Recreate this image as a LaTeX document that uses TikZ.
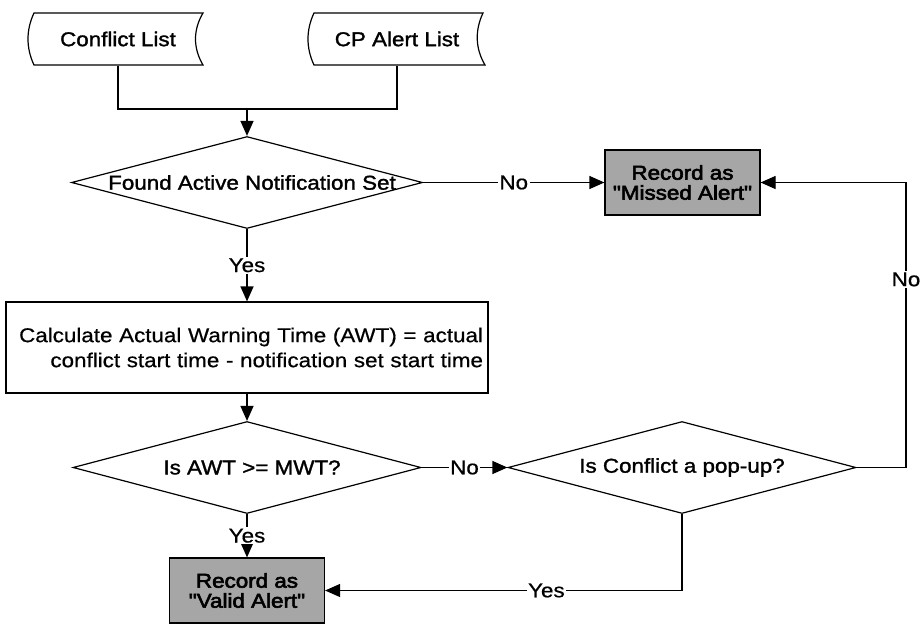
\documentclass[tikz,border=0pt]{standalone}
\usepackage{fontspec}
\setmainfont{Liberation Sans}[FakeStretch=1.12,FakeBold=0.6]
\newfontfamily\medfont{Liberation Sans}[FakeStretch=1.12,FakeBold=1.5]
\newfontfamily\heavyfont{Liberation Sans}[FakeStretch=1.12,FakeBold=3]
\usetikzlibrary{shapes.geometric,arrows.meta}

\begin{document}
\begin{tikzpicture}[x=1pt,y=-1pt,line width=1.2pt,
  every node/.style={font=\fontsize{20}{20}\selectfont},
  arr/.style={-{Triangle[length=15pt,width=13pt]}},
  listnode/.style={minimum width=172pt,minimum height=52pt,inner sep=0pt,font=\medfont\fontsize{20}{20}\selectfont},
  decision/.style={diamond,draw,inner sep=0pt,minimum width=#1,minimum height=92pt},
  recordbox/.style={draw,fill=black!35,minimum width=155pt,minimum height=65pt,align=center,inner sep=0pt,font=\heavyfont\fontsize{20}{20}\selectfont},
  answer/.style={fill=white,inner sep=1.5pt}]

\useasboundingbox (0,0) rectangle (922,624);

%%%%%%%%%%%%%%%%%%%%%%%%%%%% input lists %%%%%%%%%%%%%%%%%%%%
\draw (34,13) -- (203,13) .. controls (193,30) and (193,48) .. (203,65) -- (34,65) .. controls (26,48) and (26,30) .. cycle;
\node[listnode] (conf) at (118,39) {Conflict List};
\draw (314,13) -- (483,13) .. controls (475,30) and (475,48) .. (485,65) -- (314,65) .. controls (306,48) and (306,30) .. cycle;
\node[listnode] (cpa) at (397,39) {CP Alert List};

%%%%%%%%%%%%%%%%%%%%%%%%%%%% boxes and tests %%%%%%%%%%%%%%%%%%%%
\node[decision=351pt] (found) at (247,182.5) {\makebox[0pt]{\medfont\hspace{10pt}Found Active Notification Set}};
\node[recordbox] (missed) at (682.5,182.5) {Record as\\"Missed Alert"};

\node[draw,minimum width=482pt,minimum height=91pt,text width=472pt,align=right,inner sep=0pt,
  font=\fontsize{20}{25}\selectfont] (calc) at (247,347.5)
  {Calculate Actual Warning Time (AWT) = actual\\conflict start time - notification set start time};

\node[decision=348pt] (awt) at (247,467.5) {\makebox[0pt]{\medfont\hspace{10pt}Is AWT >= MWT?}};
\node[decision=348pt] (pop) at (682,467.5) {\makebox[0pt]{\medfont Is Conflict a pop-up?}};

\node[recordbox] (valid) at (247,590.5) {Record as\\"Valid Alert"};

%%%%%%%%%%%%%%%%%%%%%%%%%%%% connectors %%%%%%%%%%%%%%%%%%%%
\coordinate (jn) at (247,109);
\draw (conf.south) |- (jn) -| (cpa.south);
\draw[arr] (jn) -- (found.north);

\draw[arr] (found.east) -- node[answer]{No} (missed.west);
\draw[arr] (found.south) -- node[answer]{Yes} (calc.north);
\draw[arr] (calc.south) -- (awt.north);
\draw[arr] (awt.east) -- node[answer]{No} (pop.west);
\draw[arr] (awt.south) -- node[answer]{Yes} (valid.north);

\coordinate (rt) at (906,467.5);
\draw[arr] (pop.east) -- (rt) |- node[answer,pos=0.33]{No} (missed.east);
\draw[arr] (pop.south) |- node[answer,pos=0.69]{Yes} (valid.east);

\end{tikzpicture}
\end{document}
